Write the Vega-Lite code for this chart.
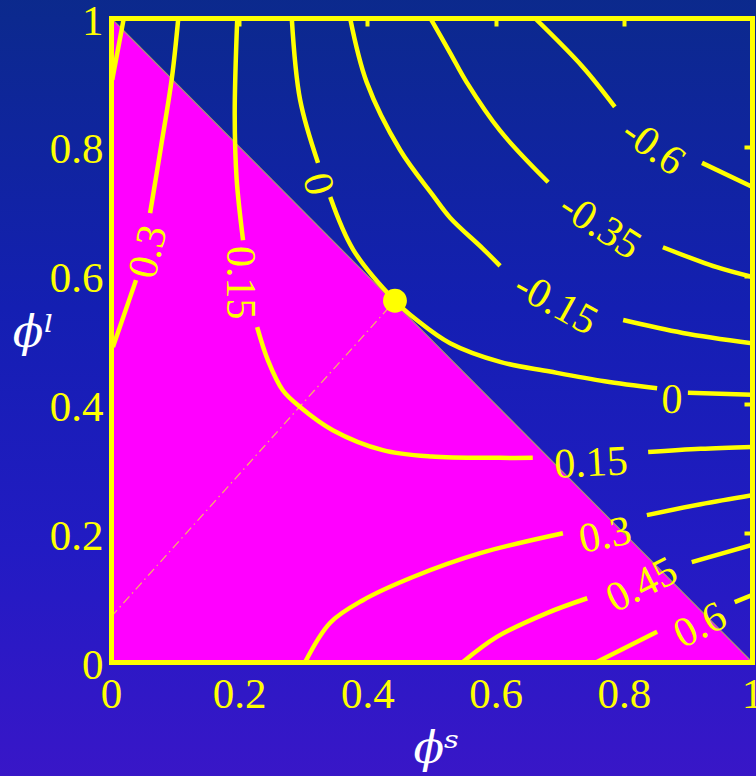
{
  "$schema": "https://vega.github.io/schema/vega-lite/v6.json",
  "width": 641,
  "height": 644,
  "autosize": {"type": "none"},
  "padding": {"left": 111, "top": 18, "right": 4, "bottom": 114},
  "background": "#1a1eb5",
  "config": {"view": {"stroke": null}},
  "resolve": {"axis": {"x": "independent", "y": "independent"}},
  "datasets": {
    "tri": [{"x": 0, "y": 1}, {"x": 1, "y": 0}],
    "guide": [{"x": 0, "y": 0.07}, {"x": 0.443, "y": 0.561}],
    "point": [{"x": 0.443, "y": 0.561}],
    "contours": [
      {"seg": "A", "i": 0, "x": 0.003, "y": 0.489}, {"seg": "A", "i": 1, "x": 0.039, "y": 0.593},
      {"seg": "B", "i": 0, "x": 0.061, "y": 0.697}, {"seg": "B", "i": 1, "x": 0.078, "y": 0.8}, {"seg": "B", "i": 2, "x": 0.095, "y": 0.907}, {"seg": "B", "i": 3, "x": 0.105, "y": 1.0},
      {"seg": "C", "i": 0, "x": 0.002, "y": 0.904}, {"seg": "C", "i": 1, "x": 0.02, "y": 1.0},
      {"seg": "D", "i": 0, "x": 0.197, "y": 1.0}, {"seg": "D", "i": 1, "x": 0.193, "y": 0.85}, {"seg": "D", "i": 2, "x": 0.196, "y": 0.75}, {"seg": "D", "i": 3, "x": 0.206, "y": 0.655},
      {"seg": "E", "i": 0, "x": 0.228, "y": 0.52}, {"seg": "E", "i": 1, "x": 0.245, "y": 0.468}, {"seg": "E", "i": 2, "x": 0.268, "y": 0.422}, {"seg": "E", "i": 3, "x": 0.295, "y": 0.396}, {"seg": "E", "i": 4, "x": 0.346, "y": 0.36}, {"seg": "E", "i": 5, "x": 0.424, "y": 0.329}, {"seg": "E", "i": 6, "x": 0.5, "y": 0.319}, {"seg": "E", "i": 7, "x": 0.607, "y": 0.317}, {"seg": "E", "i": 8, "x": 0.658, "y": 0.317},
      {"seg": "F", "i": 0, "x": 0.838, "y": 0.326}, {"seg": "F", "i": 1, "x": 0.92, "y": 0.331}, {"seg": "F", "i": 2, "x": 1.0, "y": 0.334},
      {"seg": "G", "i": 0, "x": 0.282, "y": 1.0}, {"seg": "G", "i": 1, "x": 0.295, "y": 0.873}, {"seg": "G", "i": 2, "x": 0.323, "y": 0.775},
      {"seg": "H", "i": 0, "x": 0.342, "y": 0.722}, {"seg": "H", "i": 1, "x": 0.378, "y": 0.64}, {"seg": "H", "i": 2, "x": 0.443, "y": 0.561}, {"seg": "H", "i": 3, "x": 0.477, "y": 0.531}, {"seg": "H", "i": 4, "x": 0.529, "y": 0.495}, {"seg": "H", "i": 5, "x": 0.607, "y": 0.466}, {"seg": "H", "i": 6, "x": 0.685, "y": 0.451}, {"seg": "H", "i": 7, "x": 0.77, "y": 0.436}, {"seg": "H", "i": 8, "x": 0.852, "y": 0.425},
      {"seg": "I", "i": 0, "x": 0.9, "y": 0.418}, {"seg": "I", "i": 1, "x": 1.0, "y": 0.415},
      {"seg": "J", "i": 0, "x": 0.373, "y": 1.0}, {"seg": "J", "i": 1, "x": 0.399, "y": 0.9}, {"seg": "J", "i": 2, "x": 0.451, "y": 0.795}, {"seg": "J", "i": 3, "x": 0.502, "y": 0.725}, {"seg": "J", "i": 4, "x": 0.529, "y": 0.69}, {"seg": "J", "i": 5, "x": 0.58, "y": 0.642}, {"seg": "J", "i": 6, "x": 0.607, "y": 0.615},
      {"seg": "K", "i": 0, "x": 0.799, "y": 0.531}, {"seg": "K", "i": 1, "x": 0.892, "y": 0.511}, {"seg": "K", "i": 2, "x": 1.0, "y": 0.495},
      {"seg": "L", "i": 0, "x": 0.498, "y": 1.0}, {"seg": "L", "i": 1, "x": 0.529, "y": 0.946}, {"seg": "L", "i": 2, "x": 0.555, "y": 0.9}, {"seg": "L", "i": 3, "x": 0.607, "y": 0.825}, {"seg": "L", "i": 4, "x": 0.682, "y": 0.745},
      {"seg": "M", "i": 0, "x": 0.861, "y": 0.644}, {"seg": "M", "i": 1, "x": 0.945, "y": 0.613}, {"seg": "M", "i": 2, "x": 1.0, "y": 0.598},
      {"seg": "N", "i": 0, "x": 0.661, "y": 1.0}, {"seg": "N", "i": 1, "x": 0.736, "y": 0.924}, {"seg": "N", "i": 2, "x": 0.786, "y": 0.862},
      {"seg": "O", "i": 0, "x": 0.922, "y": 0.775}, {"seg": "O", "i": 1, "x": 1.0, "y": 0.738},
      {"seg": "P", "i": 0, "x": 0.303, "y": 0.0}, {"seg": "P", "i": 1, "x": 0.342, "y": 0.061}, {"seg": "P", "i": 2, "x": 0.393, "y": 0.096}, {"seg": "P", "i": 3, "x": 0.471, "y": 0.132}, {"seg": "P", "i": 4, "x": 0.576, "y": 0.169}, {"seg": "P", "i": 5, "x": 0.705, "y": 0.2},
      {"seg": "Q", "i": 0, "x": 0.836, "y": 0.228}, {"seg": "Q", "i": 1, "x": 0.92, "y": 0.245}, {"seg": "Q", "i": 2, "x": 1.0, "y": 0.259},
      {"seg": "R", "i": 0, "x": 0.549, "y": 0.0}, {"seg": "R", "i": 1, "x": 0.602, "y": 0.039}, {"seg": "R", "i": 2, "x": 0.68, "y": 0.076}, {"seg": "R", "i": 3, "x": 0.743, "y": 0.099},
      {"seg": "S", "i": 0, "x": 0.906, "y": 0.155}, {"seg": "S", "i": 1, "x": 1.0, "y": 0.182},
      {"seg": "T", "i": 0, "x": 0.758, "y": 0.0}, {"seg": "T", "i": 1, "x": 0.852, "y": 0.047},
      {"seg": "U", "i": 0, "x": 0.973, "y": 0.093}, {"seg": "U", "i": 1, "x": 1.0, "y": 0.104}
    ],
    "labels": [
      {"id": 1, "text": "0.3", "x": 0.058, "y": 0.637},
      {"id": 2, "text": "0.15", "x": 0.201, "y": 0.589},
      {"id": 3, "text": "0", "x": 0.323, "y": 0.742},
      {"id": 4, "text": "-0.15", "x": 0.694, "y": 0.557},
      {"id": 5, "text": "-0.35", "x": 0.763, "y": 0.677},
      {"id": 6, "text": "-0.6", "x": 0.846, "y": 0.8},
      {"id": 7, "text": "0", "x": 0.875, "y": 0.407},
      {"id": 8, "text": "0.15", "x": 0.749, "y": 0.309},
      {"id": 9, "text": "0.3", "x": 0.771, "y": 0.197},
      {"id": 10, "text": "0.45", "x": 0.828, "y": 0.12},
      {"id": 11, "text": "0.6", "x": 0.919, "y": 0.057}
    ]
  },
  "layer": [
    {
      "data": {"values": [{}]},
      "mark": {"type": "rect", "clip": false, "fill": {"gradient": "linear", "x1": 0, "y1": 0, "x2": 0, "y2": 1, "stops": [{"offset": 0, "color": "#0b2a8b"}, {"offset": 0.4, "color": "#141fb2"}, {"offset": 0.7, "color": "#221bc3"}, {"offset": 1, "color": "#3a16c8"}]}},
      "encoding": {
        "x": {"datum": -0.2, "type": "quantitative", "scale": {"domain": [0, 1], "nice": false, "zero": false}, "axis": null},
        "x2": {"datum": 1.03},
        "y": {"datum": -0.2, "type": "quantitative", "scale": {"domain": [0, 1], "nice": false, "zero": false}, "axis": null},
        "y2": {"datum": 1.05}
      }
    },
    {
      "data": {"name": "tri"},
      "mark": {"type": "area", "color": "#ff00ff", "interpolate": "linear"},
      "encoding": {
        "x": {"field": "x", "type": "quantitative", "scale": {"domain": [0, 1], "nice": false, "zero": false},
          "axis": {"orient": "bottom", "values": [0, 0.2, 0.4, 0.6, 0.8, 1], "format": "~g", "grid": false, "ticks": false,
            "labelFont": "Liberation Serif", "labelFontSize": 43, "labelColor": "#ffff00", "labelPadding": 11, "labelFlush": false, "labelOverlap": false,
            "domainColor": "#ffff00", "domainWidth": 5, "domainCap": "square", "zindex": 1,
            "title": "ϕˢ", "titleColor": "#ffffff", "titleFont": "DejaVu Serif", "titleFontStyle": "italic", "titleFontWeight": "normal", "titleFontSize": 45,
            "titleX": 325, "titleY": 86, "titleAlign": "center", "titleBaseline": "middle"}},
        "y": {"field": "y", "type": "quantitative", "scale": {"domain": [0, 1], "nice": false, "zero": false},
          "axis": {"orient": "left", "values": [0, 0.2, 0.4, 0.6, 0.8, 1], "format": "~g", "grid": false, "ticks": false,
            "labelFont": "Liberation Serif", "labelFontSize": 43, "labelColor": "#ffff00", "labelPadding": 8, "labelOffset": 3, "labelFlush": false, "labelOverlap": false,
            "domainColor": "#ffff00", "domainWidth": 5, "domainCap": "square", "zindex": 1,
            "title": "ϕˡ", "titleColor": "#ffffff", "titleFont": "DejaVu Serif", "titleFontStyle": "italic", "titleFontWeight": "normal", "titleFontSize": 45,
            "titleAngle": 0, "titleX": -78, "titleY": 314, "titleAlign": "center", "titleBaseline": "middle"}},
        "y2": {"datum": 0}
      }
    },
    {
      "data": {"name": "tri"},
      "mark": {"type": "line", "stroke": "#b09078", "strokeWidth": 1.2},
      "encoding": {
        "x": {"field": "x", "type": "quantitative", "scale": {"domain": [0, 1], "nice": false, "zero": false},
          "axis": {"orient": "top", "values": [0.2, 0.4, 0.6, 0.8], "labels": false, "title": null, "grid": false,
            "ticks": true, "tickColor": "#ffff00", "tickWidth": 4, "tickSize": -8,
            "domainColor": "#ffff00", "domainWidth": 5, "domainCap": "square", "zindex": 1}},
        "y": {"field": "y", "type": "quantitative", "scale": {"domain": [0, 1], "nice": false, "zero": false},
          "axis": {"orient": "right", "values": [0.2, 0.4, 0.6, 0.8], "labels": false, "title": null, "grid": false,
            "ticks": true, "tickColor": "#ffff00", "tickWidth": 4, "tickSize": -8,
            "domainColor": "#ffff00", "domainWidth": 5, "domainCap": "square", "zindex": 1}}
      }
    },
    {
      "data": {"name": "guide"},
      "mark": {"type": "line", "stroke": "#f4b860", "strokeWidth": 1.2, "strokeDash": [9, 4, 1.5, 4]},
      "encoding": {
        "x": {"field": "x", "type": "quantitative", "scale": {"domain": [0, 1], "nice": false, "zero": false}, "axis": null},
        "y": {"field": "y", "type": "quantitative", "scale": {"domain": [0, 1], "nice": false, "zero": false}, "axis": null}
      }
    },
    {
      "data": {"name": "contours"},
      "mark": {"type": "line", "stroke": "#ffff00", "strokeWidth": 4.5, "interpolate": "catmull-rom", "clip": true},
      "encoding": {
        "x": {"field": "x", "type": "quantitative", "scale": {"domain": [0, 1], "nice": false, "zero": false}, "axis": null},
        "y": {"field": "y", "type": "quantitative", "scale": {"domain": [0, 1], "nice": false, "zero": false}, "axis": null},
        "detail": {"field": "seg", "type": "nominal"},
        "order": {"field": "i", "type": "quantitative"}
      }
    },
    {
      "data": {"name": "point"},
      "mark": {"type": "point", "shape": "circle", "filled": true, "color": "#ffff00", "opacity": 1, "size": 570},
      "encoding": {
        "x": {"field": "x", "type": "quantitative", "scale": {"domain": [0, 1], "nice": false, "zero": false}, "axis": null},
        "y": {"field": "y", "type": "quantitative", "scale": {"domain": [0, 1], "nice": false, "zero": false}, "axis": null}
      }
    },
    {"data": {"name": "labels"}, "transform": [{"filter": "datum.id == 1"}], "mark": {"type": "text", "font": "Liberation Serif", "fontSize": 42, "color": "#ffff00", "align": "center", "baseline": "middle", "angle": -76}, "encoding": {"x": {"field": "x", "type": "quantitative", "scale": {"domain": [0, 1], "nice": false, "zero": false}, "axis": null}, "y": {"field": "y", "type": "quantitative", "scale": {"domain": [0, 1], "nice": false, "zero": false}, "axis": null}, "text": {"field": "text"}}},
    {"data": {"name": "labels"}, "transform": [{"filter": "datum.id == 2"}], "mark": {"type": "text", "font": "Liberation Serif", "fontSize": 42, "color": "#ffff00", "align": "center", "baseline": "middle", "angle": 90}, "encoding": {"x": {"field": "x", "type": "quantitative", "scale": {"domain": [0, 1], "nice": false, "zero": false}, "axis": null}, "y": {"field": "y", "type": "quantitative", "scale": {"domain": [0, 1], "nice": false, "zero": false}, "axis": null}, "text": {"field": "text"}}},
    {"data": {"name": "labels"}, "transform": [{"filter": "datum.id == 3"}], "mark": {"type": "text", "font": "Liberation Serif", "fontSize": 42, "color": "#ffff00", "align": "center", "baseline": "middle", "angle": 75}, "encoding": {"x": {"field": "x", "type": "quantitative", "scale": {"domain": [0, 1], "nice": false, "zero": false}, "axis": null}, "y": {"field": "y", "type": "quantitative", "scale": {"domain": [0, 1], "nice": false, "zero": false}, "axis": null}, "text": {"field": "text"}}},
    {"data": {"name": "labels"}, "transform": [{"filter": "datum.id == 4"}], "mark": {"type": "text", "font": "Liberation Serif", "fontSize": 42, "color": "#ffff00", "align": "center", "baseline": "middle", "angle": 29}, "encoding": {"x": {"field": "x", "type": "quantitative", "scale": {"domain": [0, 1], "nice": false, "zero": false}, "axis": null}, "y": {"field": "y", "type": "quantitative", "scale": {"domain": [0, 1], "nice": false, "zero": false}, "axis": null}, "text": {"field": "text"}}},
    {"data": {"name": "labels"}, "transform": [{"filter": "datum.id == 5"}], "mark": {"type": "text", "font": "Liberation Serif", "fontSize": 42, "color": "#ffff00", "align": "center", "baseline": "middle", "angle": 33}, "encoding": {"x": {"field": "x", "type": "quantitative", "scale": {"domain": [0, 1], "nice": false, "zero": false}, "axis": null}, "y": {"field": "y", "type": "quantitative", "scale": {"domain": [0, 1], "nice": false, "zero": false}, "axis": null}, "text": {"field": "text"}}},
    {"data": {"name": "labels"}, "transform": [{"filter": "datum.id == 6"}], "mark": {"type": "text", "font": "Liberation Serif", "fontSize": 42, "color": "#ffff00", "align": "center", "baseline": "middle", "angle": 36}, "encoding": {"x": {"field": "x", "type": "quantitative", "scale": {"domain": [0, 1], "nice": false, "zero": false}, "axis": null}, "y": {"field": "y", "type": "quantitative", "scale": {"domain": [0, 1], "nice": false, "zero": false}, "axis": null}, "text": {"field": "text"}}},
    {"data": {"name": "labels"}, "transform": [{"filter": "datum.id == 7"}], "mark": {"type": "text", "font": "Liberation Serif", "fontSize": 42, "color": "#ffff00", "align": "center", "baseline": "middle", "angle": 2}, "encoding": {"x": {"field": "x", "type": "quantitative", "scale": {"domain": [0, 1], "nice": false, "zero": false}, "axis": null}, "y": {"field": "y", "type": "quantitative", "scale": {"domain": [0, 1], "nice": false, "zero": false}, "axis": null}, "text": {"field": "text"}}},
    {"data": {"name": "labels"}, "transform": [{"filter": "datum.id == 8"}], "mark": {"type": "text", "font": "Liberation Serif", "fontSize": 42, "color": "#ffff00", "align": "center", "baseline": "middle", "angle": -3}, "encoding": {"x": {"field": "x", "type": "quantitative", "scale": {"domain": [0, 1], "nice": false, "zero": false}, "axis": null}, "y": {"field": "y", "type": "quantitative", "scale": {"domain": [0, 1], "nice": false, "zero": false}, "axis": null}, "text": {"field": "text"}}},
    {"data": {"name": "labels"}, "transform": [{"filter": "datum.id == 9"}], "mark": {"type": "text", "font": "Liberation Serif", "fontSize": 42, "color": "#ffff00", "align": "center", "baseline": "middle", "angle": -11}, "encoding": {"x": {"field": "x", "type": "quantitative", "scale": {"domain": [0, 1], "nice": false, "zero": false}, "axis": null}, "y": {"field": "y", "type": "quantitative", "scale": {"domain": [0, 1], "nice": false, "zero": false}, "axis": null}, "text": {"field": "text"}}},
    {"data": {"name": "labels"}, "transform": [{"filter": "datum.id == 10"}], "mark": {"type": "text", "font": "Liberation Serif", "fontSize": 42, "color": "#ffff00", "align": "center", "baseline": "middle", "angle": -27}, "encoding": {"x": {"field": "x", "type": "quantitative", "scale": {"domain": [0, 1], "nice": false, "zero": false}, "axis": null}, "y": {"field": "y", "type": "quantitative", "scale": {"domain": [0, 1], "nice": false, "zero": false}, "axis": null}, "text": {"field": "text"}}},
    {"data": {"name": "labels"}, "transform": [{"filter": "datum.id == 11"}], "mark": {"type": "text", "font": "Liberation Serif", "fontSize": 42, "color": "#ffff00", "align": "center", "baseline": "middle", "angle": -27}, "encoding": {"x": {"field": "x", "type": "quantitative", "scale": {"domain": [0, 1], "nice": false, "zero": false}, "axis": null}, "y": {"field": "y", "type": "quantitative", "scale": {"domain": [0, 1], "nice": false, "zero": false}, "axis": null}, "text": {"field": "text"}}}
  ]
}
